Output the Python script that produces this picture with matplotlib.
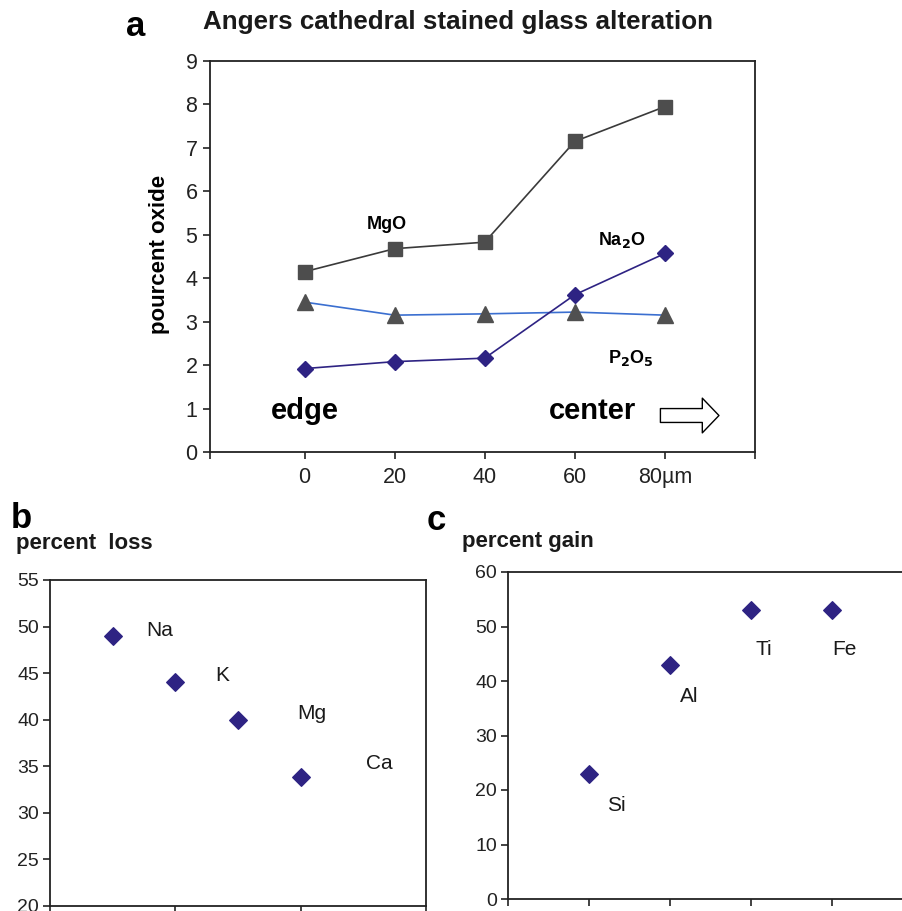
import matplotlib
matplotlib.use('Agg')
from matplotlib import pyplot as plt

plt.rcParams['font.family'] = ['Liberation Sans', 'DejaVu Sans']

# panel a: oxide profile from edge to center
depth = [0, 20, 40, 60, 80]
depth_labels = ['0', '20', '40', '60', '80µm']
mgo = [4.15, 4.68, 4.83, 7.15, 7.95]
p2o5 = [3.45, 3.15, 3.18, 3.22, 3.15]
na2o = [1.92, 2.08, 2.16, 3.62, 4.57]

# panel b: percent loss
loss_x = [0.5, 1.0, 1.5, 2.0]
loss_y = [49, 44, 40, 33.9]
loss_names = ['Na', 'K', 'Mg', 'Ca']
loss_lab = [(0.77, 49.6), (1.32, 44.7), (1.97, 40.7), (2.52, 35.35)]

# panel c: percent gain
gain_x = [1, 2, 3, 4]
gain_y = [23, 43, 53, 53]
gain_names = ['Si', 'Al', 'Ti', 'Fe']
gain_lab = [(1.22, 17.1), (2.12, 37.1), (3.05, 45.7), (4.0, 45.7)]

dark = '#222222'
violet = '#2e2383'
W, H = 903, 911

fig = plt.figure(figsize=(W / 100, H / 100), dpi=100)


def box(ax, size):
    for s in ax.spines.values():
        s.set_linewidth(1.3)
        s.set_color(dark)
    ax.tick_params(direction='out', length=5, width=1.2, color=dark,
                   labelsize=size, labelcolor='#222222')


# ---- a ----
ax = fig.add_axes([210 / W, 1 - 452 / H, 545 / W, 391 / H])
box(ax, 15.5)
ax.plot(depth, mgo, color='#3a3a3a', lw=1.2, marker='s', ms=10,
        mfc='#4d4d4d', mec='#4d4d4d')
ax.plot(depth, p2o5, color='#3b6fd0', lw=1.2, marker='^', ms=11,
        mfc='#505050', mec='#505050')
ax.plot(depth, na2o, color=violet, lw=1.2, marker='D', ms=8.5,
        mfc=violet, mec=violet)
ax.set_xlim(-21, 100)
ax.set_ylim(0, 9)
ax.set_xticks([-21] + depth + [100])
ax.set_xticklabels([''] + depth_labels + [''])
ax.set_yticks(range(10))
ax.tick_params(axis='x', pad=6)
ax.tick_params(axis='y', pad=4)
ax.text(18.2, 5.23, 'MgO', fontsize=13, fontweight='bold', ha='center', va='center')
ax.text(70.5, 4.88, 'Na$_\\mathbf{2}$O', fontsize=13, fontweight='bold', ha='center', va='center')
ax.text(72.5, 2.16, 'P$_\\mathbf{2}$O$_\\mathbf{5}$', fontsize=13, fontweight='bold', ha='center', va='center')
ax.text(0, 0.94, 'edge', fontsize=21, fontweight='bold', ha='center', va='center')
ax.text(63.9, 0.94, 'center', fontsize=21, fontweight='bold', ha='center', va='center')
ax.annotate('', xy=(92, 0.84), xytext=(79, 0.84),
            arrowprops=dict(arrowstyle='simple,head_length=0.6,head_width=1.25,tail_width=0.5',
                            fc='white', ec='black', lw=1, mutation_scale=20,
                            shrinkA=0, shrinkB=0))

fig.text(126 / W, 1 - 27 / H, 'a', fontsize=25, fontweight='bold', va='center')
fig.text(203 / W, 1 - 22 / H, 'Angers cathedral stained glass alteration',
         fontsize=18.7, fontweight='bold', va='center', color='#1a1a1a')
fig.text(160 / W, 1 - 254 / H, 'pourcent oxide', fontsize=16, fontweight='bold',
         rotation=90, ha='center', va='center')

# ---- b ----
bx = fig.add_axes([50 / W, 1 - 906 / H, 376 / W, 326 / H])
box(bx, 14)
bx.scatter(loss_x, loss_y, marker='D', s=80, color=violet, zorder=3)
for name, (lx, ly) in zip(loss_names, loss_lab):
    bx.text(lx, ly, name, fontsize=15, ha='left', va='center', color='#1a1a1a')
bx.set_xlim(0, 3)
bx.set_ylim(20, 55)
bx.set_xticks([0, 1, 2, 3])
bx.set_xticklabels([])
bx.set_yticks(range(20, 56, 5))
bx.tick_params(axis='y', pad=3)
fig.text(11 / W, 1 - 519 / H, 'b', fontsize=25, fontweight='bold', va='center')
fig.text(16 / W, 1 - 543 / H, 'percent  loss', fontsize=16, fontweight='bold',
         va='center', color='#1a1a1a')

# ---- c ----
cx = fig.add_axes([508 / W, 1 - 899 / H, 405 / W, 327 / H])
box(cx, 14)
cx.scatter(gain_x, gain_y, marker='D', s=80, color=violet, zorder=3)
for name, (lx, ly) in zip(gain_names, gain_lab):
    cx.text(lx, ly, name, fontsize=15, ha='left', va='center', color='#1a1a1a')
cx.set_xlim(0, 5)
cx.set_ylim(0, 60)
cx.set_xticks(range(6))
cx.set_xticklabels([])
cx.set_yticks(range(0, 61, 10))
cx.tick_params(axis='y', pad=3)
fig.text(427 / W, 1 - 521 / H, 'c', fontsize=25, fontweight='bold', va='center')
fig.text(462 / W, 1 - 542 / H, 'percent gain', fontsize=16, fontweight='bold',
         va='center', color='#1a1a1a')

fig.savefig('out.png', dpi=100)
